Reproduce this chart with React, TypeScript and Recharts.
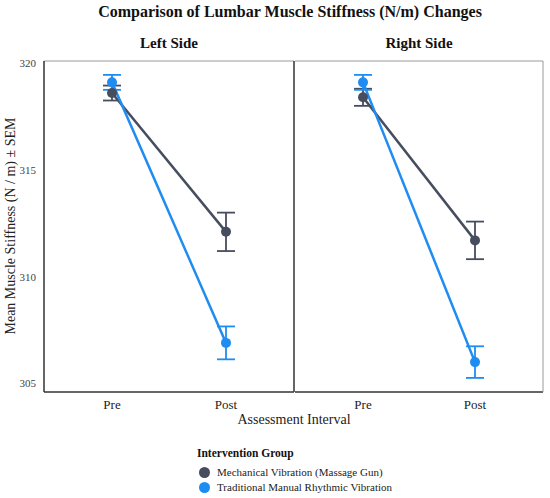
import { LineChart, Line, XAxis, YAxis, ErrorBar } from "recharts";

// Lumbar stiffness, mean ± SEM, faceted by side (Left / Right).
const intervals = ["Pre", "Post"];
const groupNames = [
  "Mechanical Vibration (Massage Gun)",
  "Traditional Manual Rhythmic Vibration",
];
const groupColors = ["#454d5e", "#1e8cf0"];

const leftMech = [318.6, 312.1];
const leftMechSem = [0.35, 0.9];
const leftTrad = [319.1, 306.9];
const leftTradSem = [0.35, 0.77];

const rightMech = [318.4, 311.7];
const rightMechSem = [0.4, 0.88];
const rightTrad = [319.1, 306.0];
const rightTradSem = [0.35, 0.74];

const yTicks = [305, 310, 315, 320];
const yDomain = [304.6, 320.1];

const FONT = "'Liberation Serif', 'DejaVu Serif', serif";
const AXIS_DARK = "#333333";
const FRAME_LIGHT = "#9a9a9a";

function buildRows(mech: number[], mechSem: number[], trad: number[], tradSem: number[]) {
  return intervals.map((iv, i) => ({
    interval: iv,
    mech: mech[i],
    mechSem: mechSem[i],
    trad: trad[i],
    tradSem: tradSem[i],
  }));
}

function Panel({
  rows,
  width,
  showY,
}: {
  rows: ReturnType<typeof buildRows>;
  width: number;
  showY: boolean;
}) {
  return (
    <LineChart
      width={width}
      height={366}
      data={rows}
      margin={{ top: 4, right: 0, bottom: 0, left: 0 }}
    >
      <XAxis
        dataKey="interval"
        height={30}
        padding={{ left: 68, right: 68 }}
        tickLine={false}
        tickMargin={2}
        stroke={AXIS_DARK}
        strokeWidth={1.5}
        tick={{ fontSize: 13, fill: "#222", fontFamily: FONT }}
      />
      <XAxis
        xAxisId="top"
        orientation="top"
        dataKey="interval"
        height={1}
        tick={false}
        tickLine={false}
        stroke={FRAME_LIGHT}
      />
      {/* the left panel's right edge doubles as the divider, so the right
          panel's own left axis line stays hidden */}
      <YAxis
        type="number"
        domain={yDomain}
        ticks={yTicks}
        allowDataOverflow
        width={showY ? 44 : 1}
        tickLine={false}
        axisLine={showY}
        stroke={AXIS_DARK}
        strokeWidth={1.5}
        tick={showY ? { fontSize: 11, fill: "#444", fontFamily: FONT } : false}
      />
      <YAxis
        yAxisId="frame"
        orientation="right"
        type="number"
        domain={yDomain}
        width={1}
        tick={false}
        tickLine={false}
        stroke={showY ? AXIS_DARK : FRAME_LIGHT}
        strokeWidth={showY ? 1.5 : 1}
      />
      <Line
        type="linear"
        dataKey="mech"
        name={groupNames[0]}
        stroke={groupColors[0]}
        strokeWidth={2.5}
        dot={{ r: 5, fill: groupColors[0], stroke: groupColors[0], strokeWidth: 0 }}
        isAnimationActive={false}
      >
        <ErrorBar dataKey="mechSem" width={9} stroke={groupColors[0]} strokeWidth={1.8} />
      </Line>
      <Line
        type="linear"
        dataKey="trad"
        name={groupNames[1]}
        stroke={groupColors[1]}
        strokeWidth={2.5}
        dot={{ r: 5, fill: groupColors[1], stroke: groupColors[1], strokeWidth: 0 }}
        isAnimationActive={false}
      >
        <ErrorBar dataKey="tradSem" width={9} stroke={groupColors[1]} strokeWidth={1.8} />
      </Line>
    </LineChart>
  );
}

export default function App() {
  const leftRows = buildRows(leftMech, leftMechSem, leftTrad, leftTradSem);
  const rightRows = buildRows(rightMech, rightMechSem, rightTrad, rightTradSem);

  return (
    <div
      style={{
        position: "absolute",
        left: 0,
        top: 0,
        width: 550,
        height: 498,
        background: "#fff",
        fontFamily: FONT,
        color: "#111",
      }}
    >
      <div
        style={{
          position: "absolute",
          left: 0,
          width: 580,
          top: 3,
          textAlign: "center",
          fontSize: 16,
          fontWeight: 700,
        }}
      >
        Comparison of Lumbar Muscle Stiffness (N/m) Changes
      </div>
      <div style={{ position: "absolute", left: 44, width: 250, top: 35, textAlign: "center", fontSize: 15, fontWeight: 700 }}>
        Left Side
      </div>
      <div style={{ position: "absolute", left: 294, width: 250, top: 35, textAlign: "center", fontSize: 15, fontWeight: 700 }}>
        Right Side
      </div>

      <div style={{ position: "absolute", left: 0, top: 56 }}>
        <Panel rows={leftRows} width={295} showY />
      </div>
      <div style={{ position: "absolute", left: 294, top: 56 }}>
        <Panel rows={rightRows} width={250} showY={false} />
      </div>

      <div
        style={{
          position: "absolute",
          left: 11,
          top: 226,
          transform: "translate(-50%, -50%) rotate(-90deg)",
          whiteSpace: "nowrap",
          fontSize: 14,
          color: "#222",
        }}
      >
        Mean Muscle Stiffness (N / m) ± SEM
      </div>
      <div style={{ position: "absolute", left: 44, width: 500, top: 412, textAlign: "center", fontSize: 14, color: "#222" }}>
        Assessment Interval
      </div>

      <div style={{ position: "absolute", left: 197, top: 447, fontSize: 11.5, fontWeight: 700 }}>
        Intervention Group
      </div>
      {groupNames.map((name, i) => (
        <div
          key={name}
          style={{
            position: "absolute",
            left: 199,
            top: 465 + i * 15,
            height: 14,
            display: "flex",
            alignItems: "center",
            fontSize: 11,
            color: "#222",
          }}
        >
          <span
            style={{
              width: 11,
              height: 11,
              borderRadius: "50%",
              background: groupColors[i],
              display: "inline-block",
              marginRight: 7,
            }}
          />
          {name}
        </div>
      ))}
    </div>
  );
}
